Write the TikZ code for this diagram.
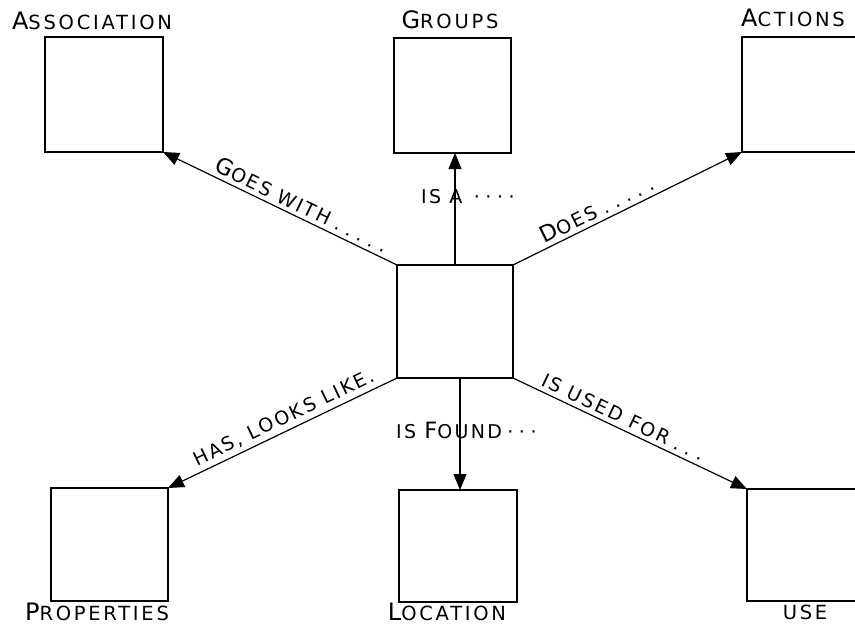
\documentclass[tikz,border=0pt]{standalone}
\usepackage{fontspec}
\usetikzlibrary{arrows.meta}
\newfontfamily\titlefont[LetterSpace=14]{DejaVu Sans}
\newfontfamily\handfont[LetterSpace=12]{DejaVu Sans}
% hand-lettered caps: a larger first letter followed by smaller capitals
\newcommand\hwInitial[1]{{\fontsize{24}{24}\selectfont #1}}
\newcommand\hwRest[1]{{\fontsize{19.5}{20}\selectfont #1}}
\newcommand\lkInitial[1]{{\fontsize{22.5}{23}\selectfont #1}}
\newcommand\lkRest[1]{{\fontsize{19}{19}\selectfont #1}}
% widely spaced dots
\newcommand\spdot{\hspace{6.5pt}.}
\newcommand\spmid{\hspace{5.5pt}·}
\begin{document}
\begin{tikzpicture}[x=1pt,y=-1pt,
  conceptbox/.style={draw,line width=1.4pt,outer sep=0pt,inner sep=0pt},
  link/.style={line width=1.2pt,-{Triangle[length=16pt,width=13pt]}},
  title/.style={font=\titlefont,inner sep=0pt},
  linklabel/.style={font=\handfont,inner sep=0pt}]
\clip (0,0) rectangle (855,626);
\fill[white] (0,0) rectangle (855,626);

% concept boxes
\node[conceptbox,minimum width=116pt,minimum height=113pt] (c) at (455,321.5) {};
\node[conceptbox,minimum width=118pt,minimum height=115pt] (assoc) at (104,94.5) {};
\node[conceptbox,minimum width=117pt,minimum height=115pt] (groups) at (452.5,95.5) {};
\node[conceptbox,minimum width=130pt,minimum height=115pt] (actions) at (807,94.5) {};
\node[conceptbox,minimum width=117pt,minimum height=113pt] (props) at (109.5,544.5) {};
\node[conceptbox,minimum width=118pt,minimum height=112pt] (loc) at (458,546) {};
\node[conceptbox,minimum width=133pt,minimum height=112pt] (use) at (813.5,545) {};

% box titles
\node[title] (tassoc) at (92,21) {\hwInitial{A}\hwRest{SSOCIATION}};
\node[title] (tgroups) at (450,20) {\hwInitial{G}\hwRest{ROUPS}};
\node[title,anchor=west] (tactions) at (741,18) {\hwInitial{A}\hwRest{CTIONS}};
\node[title] (tprops) at (97,612) {\hwInitial{P}\hwRest{ROPERTIES}};
\node[title] (tloc) at (447,612) {\hwInitial{L}\hwRest{OCATION}};
\node[title] (tuse) at (805,612) {\hwRest{USE}};

% links from the central concept
\draw[link] (c.north west) -- node[linklabel,sloped,above=4pt,pos=0.43]
  {\lkInitial{G}\lkRest{OES WITH\spdot\spdot\spdot\spdot\spdot}} (assoc.south east);
\draw[link] (c.north) -- (c.north |- groups.south);
\draw[link] (c.north east) -- node[linklabel,sloped,above=4pt,pos=0.39]
  {\lkInitial{D}\lkRest{OES\spdot\spdot\spdot\spdot\spdot}} (actions.south west);
\draw[link] (c.south west) -- node[linklabel,sloped,above=4pt,pos=0.47]
  {\lkRest{HAS, LOOKS LIKE.}} (props.north east);
\draw[link] ([xshift=5pt]c.south) -- ([xshift=5pt]c.south |- loc.north);
\draw[link] (c.south east) -- node[linklabel,sloped,above=4pt,pos=0.45]
  {\lkRest{IS USED FOR\spdot\spdot\spdot}} (use.north west);

% labels on the vertical links
\node[linklabel,anchor=west] (lisa) at (421,197) {\lkRest{IS A\hspace{6pt}\spmid\spmid\spmid\spmid}};
\node[linklabel,anchor=west] (lfound) at (396,430) {\lkRest{IS }\lkInitial{F}\lkRest{OUND\spmid\spmid\spmid}};
\end{tikzpicture}
\end{document}
